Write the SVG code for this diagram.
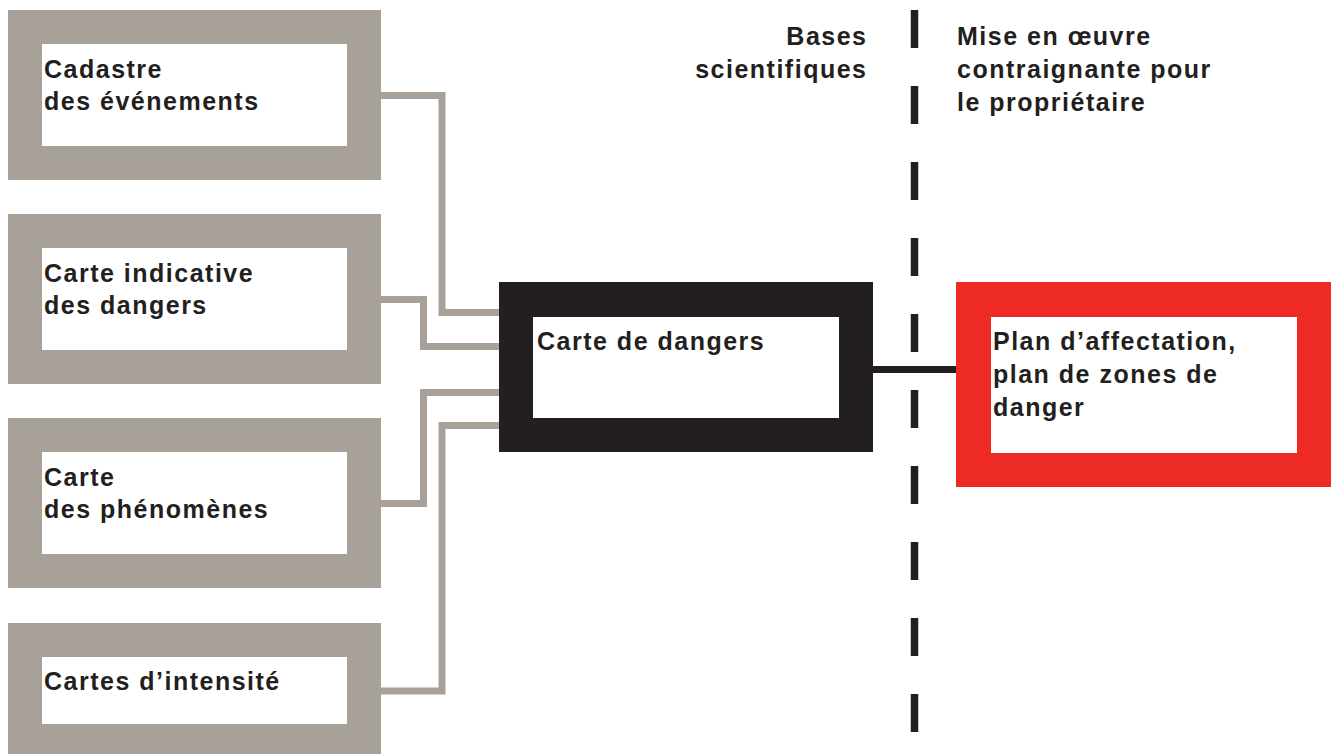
<svg xmlns="http://www.w3.org/2000/svg" width="1335" height="754" viewBox="0 0 1335 754">
  <style>
    .t { font-family: "Liberation Sans", Arial, sans-serif; font-weight: bold; font-size: 25px; letter-spacing: 1.5px; fill: #231f20; }
    .gray { fill: #a8a199; }
    .inner { fill: #ffffff; }
    .conn { fill: none; stroke: #a8a199; stroke-width: 7; stroke-linejoin: miter; }
  </style>
  <rect width="1335" height="754" fill="#ffffff"/>

  <g id="divider">
    <line x1="914.5" y1="10" x2="914.5" y2="732" stroke="#231f20" stroke-width="7.5" stroke-dasharray="38 38"/>
  </g>

  <g id="connectors">
    <polyline class="conn" points="381,95.5 442,95.5 442,312.5 499,312.5"/>
    <polyline class="conn" points="381,299.5 423.5,299.5 423.5,346.5 499,346.5"/>
    <polyline class="conn" points="381,503.5 423.5,503.5 423.5,392.5 499,392.5"/>
    <polyline class="conn" points="381,691 442,691 442,425.5 499,425.5"/>
    <line x1="873" y1="369.5" x2="956" y2="369.5" stroke="#231f20" stroke-width="7"/>
  </g>

  <g id="header-left">
    <text class="t" x="867.5" y="45" text-anchor="end">Bases</text>
    <text class="t" x="867.5" y="78" text-anchor="end">scientifiques</text>
  </g>
  <g id="header-right">
    <text class="t" x="957" y="45">Mise en œuvre</text>
    <text class="t" x="957" y="78">contraignante pour</text>
    <text class="t" x="957" y="111">le propriétaire</text>
  </g>

  <g id="cadastre">
    <rect class="gray" x="8" y="10" width="373" height="170"/>
    <rect class="inner" x="42" y="44" width="305" height="102"/>
    <text class="t" x="44" y="78">Cadastre</text>
    <text class="t" x="44" y="110">des événements</text>
  </g>

  <g id="carte-indicative">
    <rect class="gray" x="8" y="214" width="373" height="170"/>
    <rect class="inner" x="42" y="248" width="305" height="102"/>
    <text class="t" x="44" y="282">Carte indicative</text>
    <text class="t" x="44" y="314">des dangers</text>
  </g>

  <g id="carte-phenomenes">
    <rect class="gray" x="8" y="418" width="373" height="170"/>
    <rect class="inner" x="42" y="452" width="305" height="102"/>
    <text class="t" x="44" y="486">Carte</text>
    <text class="t" x="44" y="518">des phénomènes</text>
  </g>

  <g id="cartes-intensite">
    <rect class="gray" x="8" y="623" width="373" height="136"/>
    <rect class="inner" x="42" y="657" width="305" height="67"/>
    <text class="t" x="44" y="690">Cartes d’intensité</text>
  </g>

  <g id="carte-dangers">
    <rect fill="#231f20" x="499" y="282" width="374" height="170"/>
    <rect class="inner" x="533" y="317" width="306" height="101"/>
    <text class="t" x="537" y="350">Carte de dangers</text>
  </g>

  <g id="plan-affectation">
    <rect fill="#ee2a24" x="956" y="282" width="375" height="205"/>
    <rect class="inner" x="991" y="317" width="306" height="136"/>
    <text class="t" x="993" y="350">Plan d’affectation,</text>
    <text class="t" x="993" y="383">plan de zones de</text>
    <text class="t" x="993" y="416">danger</text>
  </g>
</svg>
